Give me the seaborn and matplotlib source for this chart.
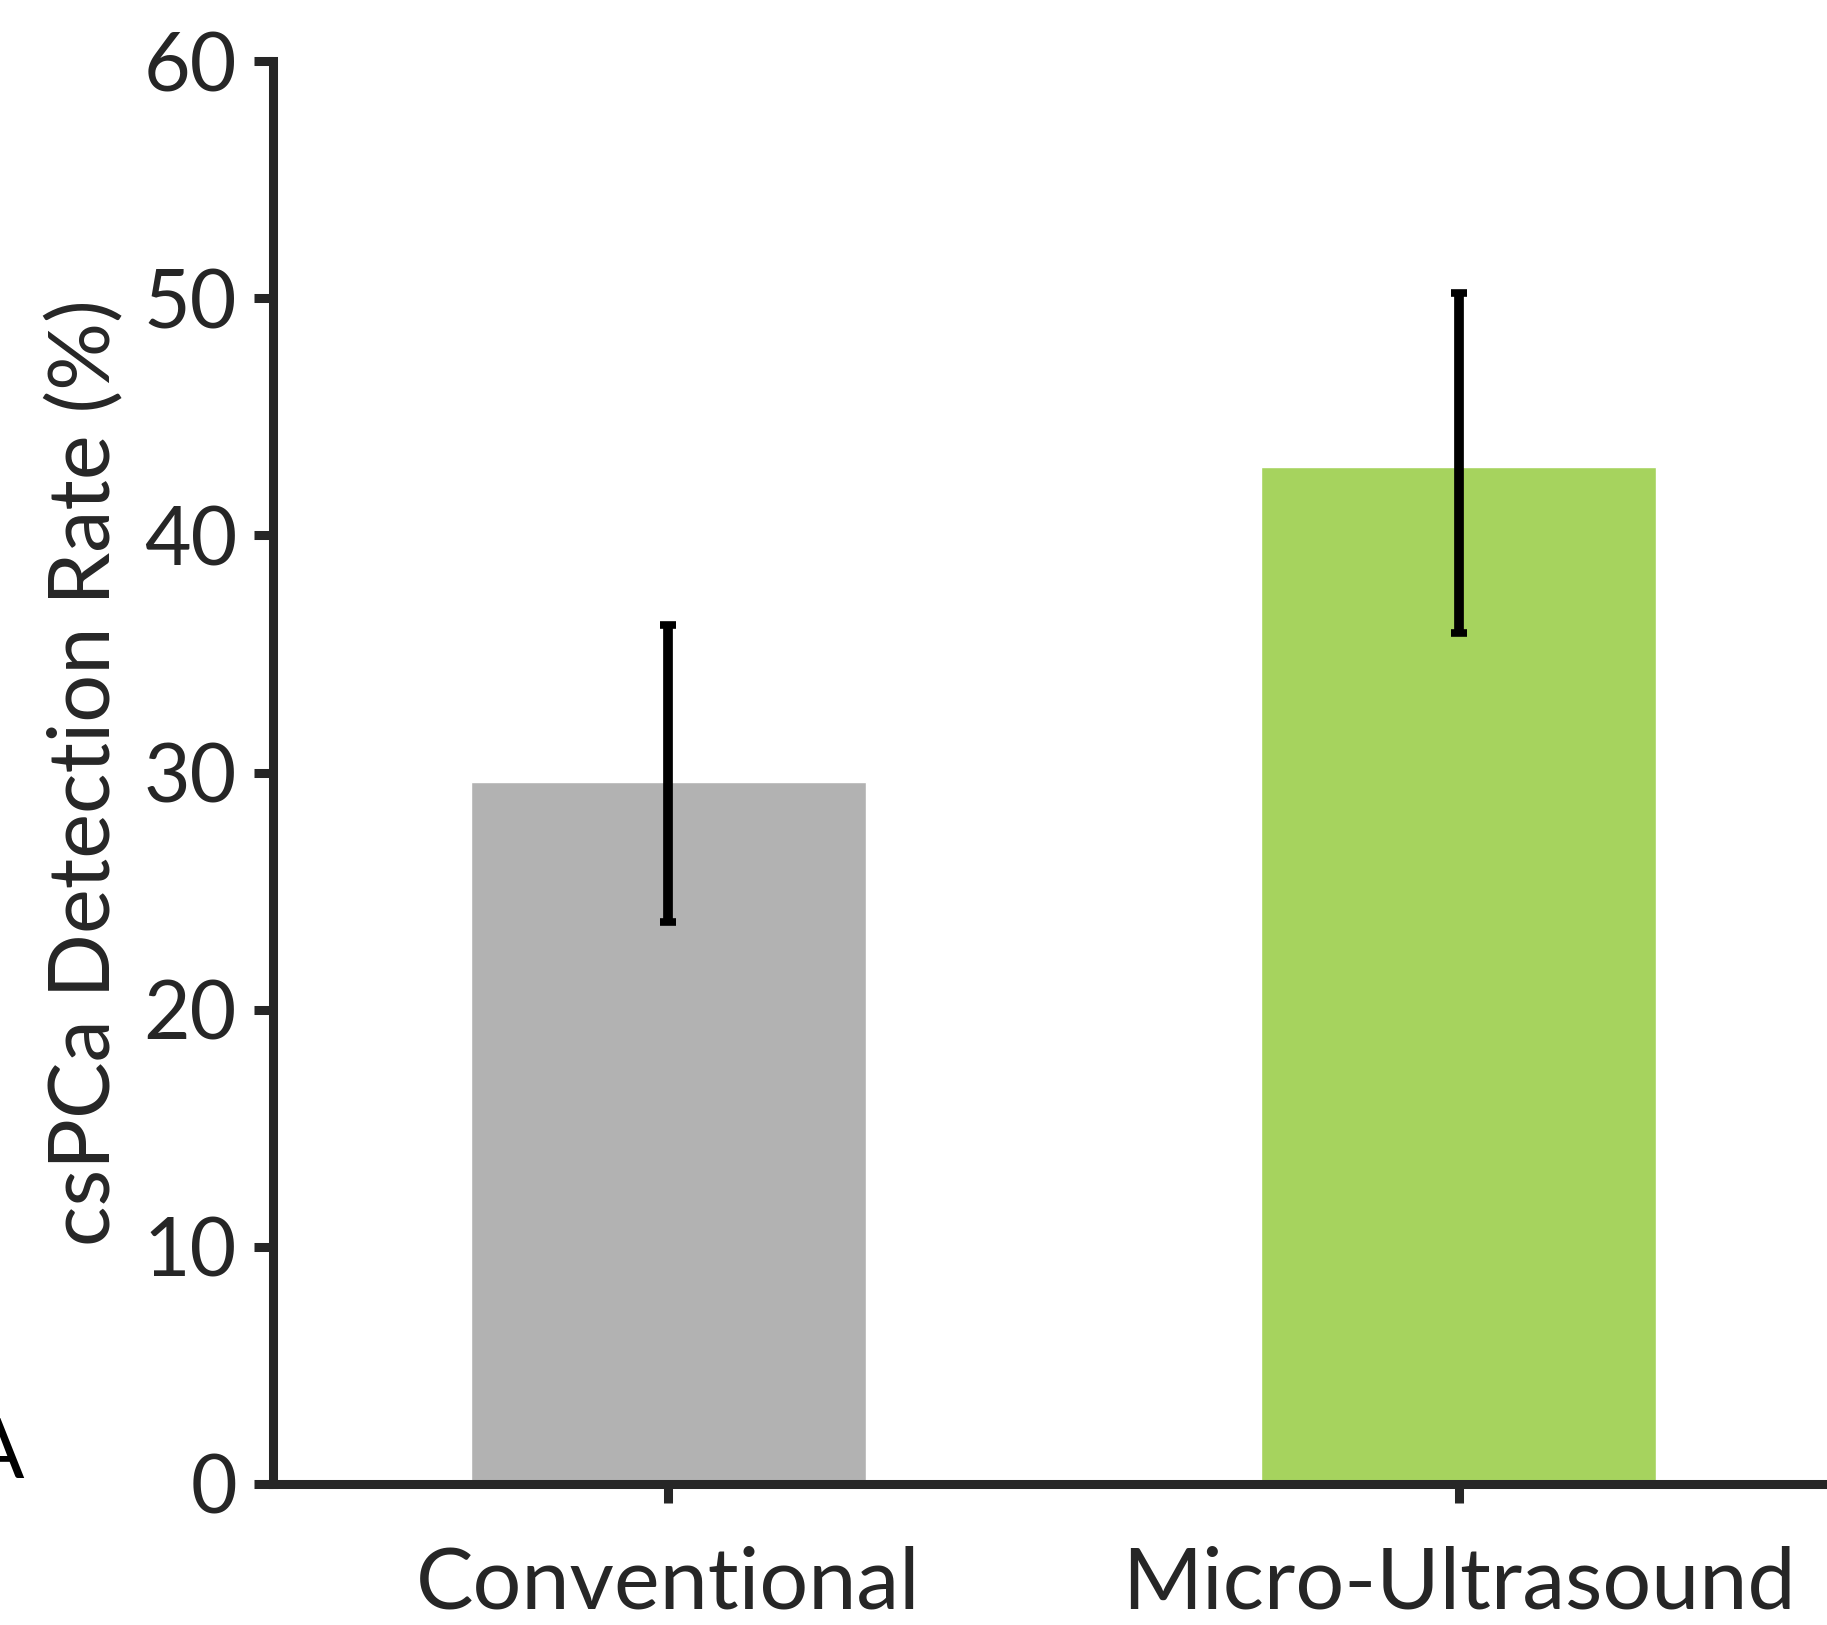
import matplotlib
matplotlib.use("Agg")
import matplotlib.pyplot as plt
import seaborn as sns
import pandas as pd
import numpy as np

categories = ["Conventional", "Micro-Ultrasound"]
rates = [29.6, 42.9]
ci_low = [23.7, 35.9]
ci_high = [36.2, 50.2]
bar_colors = ["#b2b2b2", "#a6d35e"]
y_ticks = [0, 10, 20, 30, 40, 50, 60]

sns.set_theme(style="ticks")
plt.rcParams['font.family'] = ['Lato', 'DejaVu Sans']

W, H, DPI = 1827, 1625, 100
fig = plt.figure(figsize=(W / DPI, H / DPI), dpi=DPI)
left = 273 / W
bottom = 1 - 1484 / H
height = (1484 - 61) / H
width = (669 + 790 * 1.5 - 273) / W  # extends past figure
ax = fig.add_axes([left, bottom, width, height])

df = pd.DataFrame({"Method": categories, "Rate": rates})
sns.barplot(data=df, x="Method", y="Rate", hue="Method", palette=bar_colors,
            width=0.5, legend=False, ax=ax, saturation=1)

yerr = np.array([[r - lo for r, lo in zip(rates, ci_low)],
                 [hi - r for r, hi in zip(rates, ci_high)]])
ax.errorbar(np.arange(len(categories)), rates, yerr=yerr, fmt="none",
            ecolor="black", elinewidth=7, capsize=6, capthick=5.5, zorder=5)

ax.set_xlim(-0.5, 1.5)
ax.set_ylim(0, 60)
ax.set_yticks(y_ticks)
ax.set_xlabel("")
ax.set_ylabel("csPCa Detection Rate (%)", fontsize=61, color="#262626", labelpad=14)

for s in ["top", "right"]:
    ax.spines[s].set_visible(False)
for s in ["left", "bottom"]:
    ax.spines[s].set_linewidth(6.5)
    ax.spines[s].set_color("#262626")

ax.tick_params(axis="both", which="major", length=14, width=6.5, color="#262626",
               labelsize=58, labelcolor="#262626", direction="out")
ax.tick_params(axis="y", pad=12)
ax.tick_params(axis="x", pad=30, labelsize=62)

fig.text(24 / W, 1 - 1478 / H, "A", fontsize=60, color="black", ha="right", va="baseline")

fig.savefig("out.png", dpi=DPI)
